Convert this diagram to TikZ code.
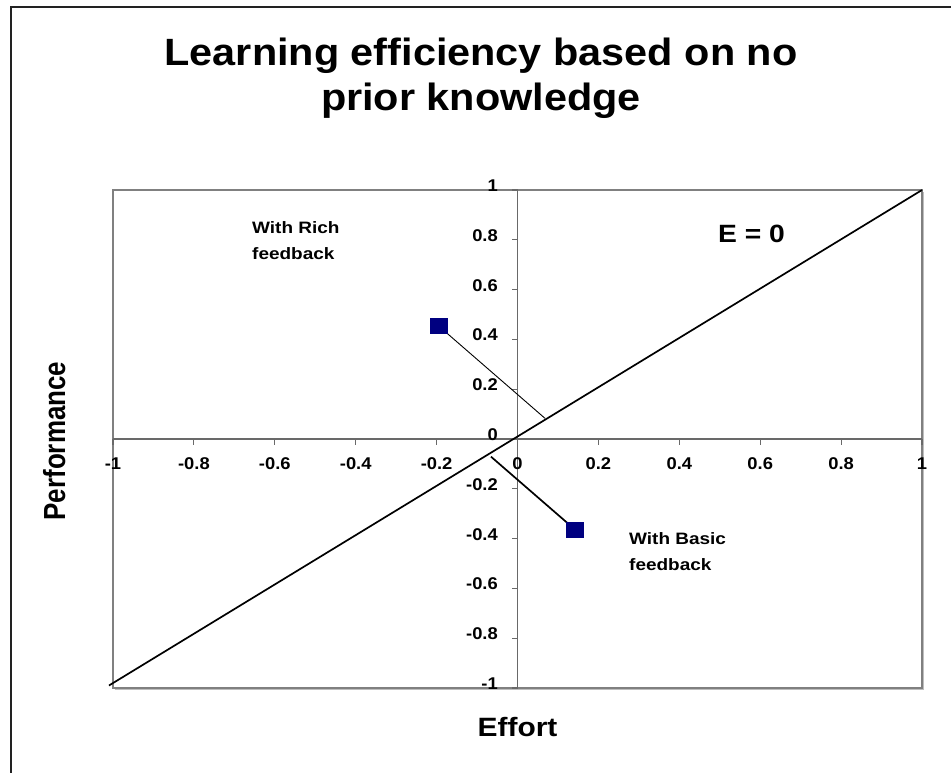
\documentclass[tikz,border=0pt]{standalone}
\usepackage{fontspec}
\setmainfont{Liberation Sans}
\definecolor{navy}{RGB}{0,0,128}
\definecolor{axisgray}{RGB}{105,105,105}
\definecolor{boxgray}{RGB}{128,128,128}
\definecolor{shadowgray}{RGB}{190,190,190}
\definecolor{framegray}{RGB}{34,34,34}
\newcommand{\hstr}[2][1.12]{\scalebox{#1}[1]{#2}}
\tikzset{
  framebox/.style={draw=framegray,line width=1.4pt},
  plotbox/.style={draw=boxgray,line width=1.2pt},
  boxshadow/.style={draw=shadowgray,line width=1pt},
  axisline/.style={draw=axisgray,line width=1.6pt},
  tickmark/.style={draw=axisgray,line width=1.1pt},
  diag/.style={draw=black,line width=1.7pt},
  thinlink/.style={draw=black,line width=0.9pt},
  thicklink/.style={draw=black,line width=1.7pt},
  marker/.style={fill=navy,minimum width=18pt,minimum height=15.5pt,inner sep=0pt},
  ticklab/.style={font=\fontsize{17}{19}\selectfont\bfseries,inner sep=0pt},
  titlefont/.style={font=\fontsize{38}{44}\selectfont\bfseries,inner sep=0pt,anchor=base},
  axislab/.style={font=\fontsize{26.5}{30}\selectfont\bfseries,inner sep=0pt,anchor=base},
  notelab/.style={font=\fontsize{16.5}{26}\selectfont\bfseries,inner sep=0pt,anchor=base west},
  eqlab/.style={font=\fontsize{25}{30}\selectfont\bfseries,inner sep=0pt,anchor=base west},
}
\begin{document}
\begin{tikzpicture}[x=1pt,y=-1pt]
\useasboundingbox (0,0) rectangle (951,772);
\fill[white] (0,0) rectangle (951,772);
\draw[framebox] (11,7) rectangle (1000,800);
% title
\node[titlefont] (title1) at (481,65) {\hstr[1.09]{Learning efficiency based on no}};
\node[titlefont] (title2) at (481,110) {\hstr[1.09]{prior knowledge}};
% axis titles
\node[axislab] (effort) at (517.5,736) {\hstr[1.13]{Effort}};
\node[axislab,rotate=90] (perf) at (65,441) {\scalebox{0.98}[1.15]{Performance}};
% notes
\node[notelab] (rich1) at (252,233) {\hstr[1.15]{With Rich}};
\node[notelab] (rich2) at (252,259) {\hstr[1.15]{feedback}};
\node[notelab] (basic1) at (629,544) {\hstr[1.15]{With Basic}};
\node[notelab] (basic2) at (629,570) {\hstr[1.15]{feedback}};
\node[eqlab] (eq) at (718,242.7) {\hstr[1.13]{E = 0}};
% data scope
\begin{scope}[shift={(517.5,439)},x=404.5pt,y=249pt]
  \draw[boxshadow] ([xshift=1.6pt,yshift=-1.6pt]-1,-1) -- ([xshift=1.6pt,yshift=-1.6pt]1,-1) -- ([xshift=1.6pt,yshift=-1.6pt]1,1);
  \draw[plotbox] (-1,-1) rectangle (1,1);
  \coordinate (xl) at (-1,0);
  \coordinate (xr) at (1,0);
  \coordinate (yb) at (0,-1);
  \coordinate (yt) at (0,1);
  \draw[axisline] (xl) -- (xr);
  \draw[axisline] (yb) -- (yt);
  \foreach \v in {-1,-0.8,-0.6,-0.4,-0.2,0,0.2,0.4,0.6,0.8,1}{
    \draw[tickmark] (\v,0) -- ++(0pt,-6pt);
    \draw[tickmark] (0,\v) -- ++(-6pt,0pt);
    \node[ticklab,anchor=base] (xt\v) at ([yshift=-30pt]\v,0) {\hstr[1.08]{\v}};
    \node[ticklab,anchor=base east] (yt\v) at ([xshift=-19.5pt,yshift=-1.5pt]0,\v) {\hstr[1.08]{\v}};
  }
  \coordinate (d1) at (-1.01,-0.99);
  \coordinate (d2) at (1,1);
  \draw[diag] (d1) -- (d2);
  \coordinate (rc) at (-0.195,0.454);
  \coordinate (re) at (0.068,0.083);
  \coordinate (bc) at (0.143,-0.365);
  \coordinate (be) at (-0.0655,-0.071);
  \draw[thinlink] (rc) -- (re);
  \draw[thicklink] (be) -- (bc);
  \node[marker] (rich) at (rc) {};
  \node[marker] (basic) at (bc) {};
\end{scope}
\end{tikzpicture}
\end{document}
